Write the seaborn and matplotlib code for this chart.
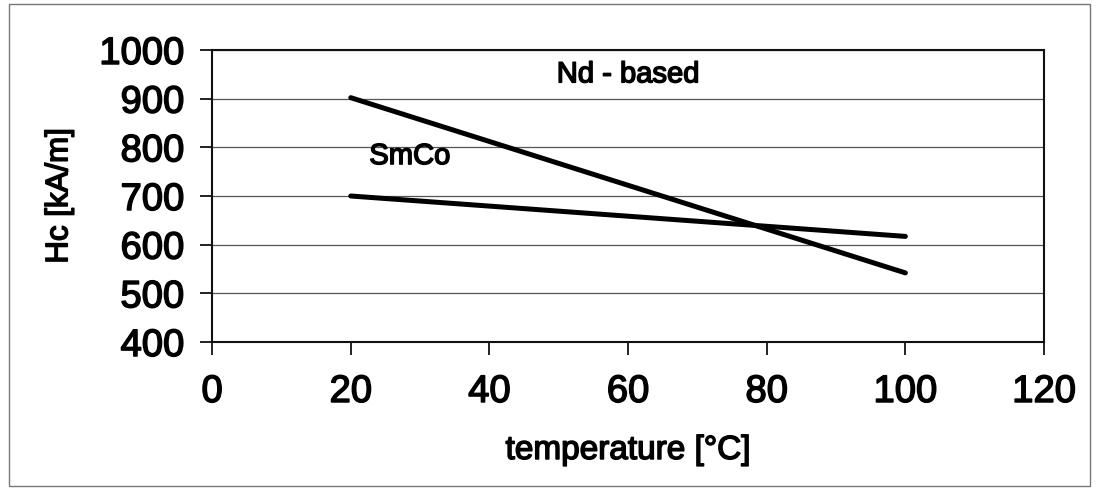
import matplotlib.patheffects as pe
import matplotlib.pyplot as plt
import pandas as pd
import seaborn as sns
from matplotlib.patches import Rectangle

# data
temperature = [20, 100]
nd_based = [902, 542]
smco = [700, 617]
x_ticks = [0, 20, 40, 60, 80, 100, 120]
y_ticks = [400, 500, 600, 700, 800, 900, 1000]

df = pd.DataFrame(
    {
        "temperature": temperature * 2,
        "Hc": nd_based + smco,
        "magnet": ["Nd - based"] * len(temperature) + ["SmCo"] * len(temperature),
    }
)

sns.set_style("white")
plt.rcParams["font.family"] = ["Liberation Sans", "DejaVu Sans"]
plt.rcParams["text.color"] = "black"
plt.rcParams["axes.labelcolor"] = "black"

# scanned look: slightly thickened glyphs
heavy = [pe.withStroke(linewidth=1.1, foreground="black")]

fig = plt.figure(figsize=(10.99, 4.9), dpi=100)
ax = fig.add_axes([0.193, 0.302, 0.757, 0.596])

sns.lineplot(
    data=df,
    x="temperature",
    y="Hc",
    hue="magnet",
    palette=["black", "black"],
    linewidth=3.6,
    legend=False,
    ax=ax,
)

ax.set_xlim(0, 120)
ax.set_ylim(400, 1000)
ax.set_xticks(x_ticks)
ax.set_yticks(y_ticks)
ax.yaxis.grid(True, color="#555555", linewidth=0.9)
ax.set_axisbelow(True)
for s in ax.spines.values():
    s.set_color("#111111")
    s.set_linewidth(1.5)
ax.tick_params(
    axis="both",
    direction="out",
    length=9,
    width=1.3,
    color="#111111",
    labelcolor="black",
    labelsize=27.5,
    left=True,
    bottom=True,
)
ax.tick_params(axis="x", pad=14)
ax.tick_params(axis="y", pad=11)
for lab in ax.get_xticklabels() + ax.get_yticklabels():
    lab.set_path_effects(heavy)

ax.set_xlabel("temperature [°C]", fontsize=24, labelpad=18, path_effects=heavy)
ax.set_ylabel("Hc [kA/m]", fontsize=22.5, labelpad=18, path_effects=heavy)

ax.text(60, 950, "Nd - based", fontsize=21, ha="center", va="center", path_effects=heavy)
ax.text(28.5, 782, "SmCo", fontsize=21, ha="center", va="center", path_effects=heavy)

# outer chart frame
fig.patches.append(
    Rectangle(
        (0.008, 0.008),
        0.984,
        0.984,
        transform=fig.transFigure,
        fill=False,
        edgecolor="#777777",
        linewidth=1.0,
    )
)

fig.savefig("out.png", dpi=100)
